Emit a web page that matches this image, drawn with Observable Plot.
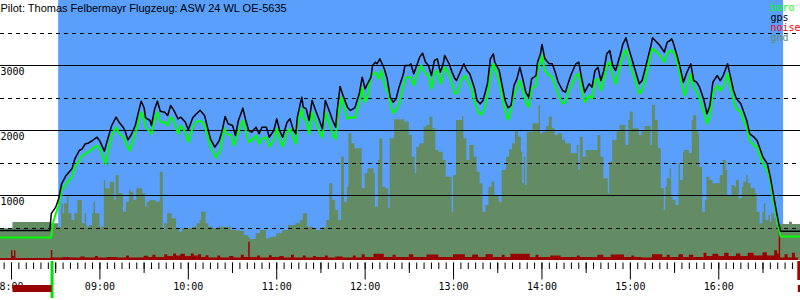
<!DOCTYPE html>
<html>
<head>
<meta charset="utf-8">
<script src="https://cdn.jsdelivr.net/npm/d3@7"></script>
<script src="https://cdn.jsdelivr.net/npm/@observablehq/plot@0.6"></script>
<style>
  html, body { margin: 0; padding: 0; background: #fff; }
  svg { display: block; }
</style>
</head>
<body>
<div id="chart"></div>
<script>
// ---- data (time "H:MM", altitude in m) ----
const titleText = "Pilot: Thomas Felbermayr Flugzeug: ASW 24 WL OE-5635";

const gps = [["7:52",460],["8:26",460],["8:27",720],["8:30",820],["8:32",949],["8:34",1179],["8:37",1308],["8:39",1359],["8:41",1410],["8:43",1564],["8:46",1692],["8:48",1718],["8:50",1795],["8:52",1805],["8:55",1846],["8:58",1897],["9:00",1836],["9:03",1682],["9:06",1923],["9:08",2077],["9:11",2205],["9:13",2128],["9:16",2041],["9:17",2000],["9:19",1856],["9:21",1923],["9:24",2077],["9:26",2267],["9:28",2451],["9:30",2349],["9:31",2195],["9:34",2154],["9:35",2077],["9:37",2318],["9:39",2451],["9:41",2297],["9:44",2282],["9:46",2231],["9:48",2385],["9:50",2318],["9:53",2179],["9:55",2205],["9:58",2128],["10:00",2010],["10:03",2195],["10:05",2246],["10:08",2310],["10:11",2231],["10:13",2051],["10:15",1872],["10:18",1744],["10:21",1846],["10:23",2000],["10:25",2215],["10:27",2103],["10:30",2077],["10:32",1923],["10:34",2154],["10:37",2344],["10:39",2154],["10:41",2000],["10:43",1974],["10:46",2051],["10:48",1949],["10:50",2051],["10:53",2051],["10:55",1897],["10:58",2000],["11:00",2179],["11:02",2000],["11:04",1897],["11:07",2128],["11:09",2179],["11:11",2026],["11:13",1949],["11:14",2205],["11:17",2513],["11:18",2359],["11:20",2333],["11:22",2154],["11:24",2462],["11:26",2333],["11:29",2154],["11:31",2026],["11:33",2462],["11:36",2282],["11:38",2154],["11:40",2051],["11:41",2308],["11:43",2677],["11:45",2538],["11:48",2359],["11:50",2308],["11:53",2349],["11:56",2564],["11:58",2820],["12:00",2641],["12:01",2692],["12:04",2820],["12:05",3000],["12:07",3051],["12:08",3026],["12:10",3103],["12:13",2949],["12:15",2795],["12:17",2513],["12:19",2436],["12:21",2487],["12:23",2667],["12:26",2872],["12:27",3000],["12:30",3000],["12:31",3026],["12:33",2872],["12:35",3000],["12:37",3128],["12:39",3190],["12:41",3051],["12:43",3000],["12:45",2846],["12:47",3077],["12:49",3103],["12:51",2897],["12:53",3026],["12:54",3154],["12:57",3026],["12:59",2897],["13:01",2795],["13:02",2769],["13:05",2923],["13:07",3026],["13:09",2923],["13:11",2872],["13:14",2667],["13:16",2462],["13:18",2410],["13:20",2462],["13:23",2718],["13:25",3103],["13:27",3179],["13:28",3051],["13:31",2923],["13:33",2692],["13:35",2462],["13:37",2349],["13:39",2385],["13:41",2692],["13:43",2795],["13:45",2974],["13:47",2795],["13:49",2590],["13:51",2513],["13:53",2795],["13:56",2846],["13:57",3051],["13:59",3179],["14:00",3323],["14:02",3103],["14:05",3026],["14:07",3026],["14:09",2897],["14:11",2744],["14:14",2615],["14:16",2590],["14:18",2744],["14:20",2872],["14:23",3026],["14:25",3051],["14:27",2795],["14:29",2590],["14:32",2718],["14:34",2667],["14:36",2923],["14:38",2974],["14:40",2769],["14:42",2923],["14:44",3179],["14:46",3231],["14:48",3000],["14:50",2923],["14:53",3154],["14:55",3333],["14:57",3426],["14:59",3256],["15:01",3103],["15:03",2949],["15:06",2718],["15:08",2769],["15:10",2949],["15:12",3128],["15:14",3308],["15:15",3426],["15:18",3359],["15:20",3308],["15:23",3205],["15:25",3359],["15:27",3385],["15:28",3410],["15:29",3359],["15:32",3128],["15:34",2949],["15:36",2744],["15:38",2872],["15:41",3026],["15:43",2769],["15:45",2744],["15:47",2667],["15:50",2462],["15:52",2256],["15:54",2385],["15:56",2744],["15:59",2846],["16:01",2769],["16:03",2846],["16:06",3026],["16:08",2820],["16:10",2615],["16:12",2487],["16:15",2410],["16:17",2282],["16:19",2154],["16:21",1949],["16:24",1897],["16:26",1846],["16:28",1718],["16:30",1590],["16:33",1487],["16:35",1282],["16:37",1026],["16:39",769],["16:41",538],["16:42",451],["16:56",451]];

const baro = [["7:52",355],["8:27",355],["8:28",564],["8:30",718],["8:32",846],["8:34",1077],["8:37",1179],["8:39",1231],["8:41",1282],["8:43",1436],["8:46",1538],["8:48",1615],["8:50",1641],["8:52",1667],["8:55",1718],["8:58",1769],["9:00",1718],["9:04",1487],["9:06",1718],["9:08",1923],["9:11",2051],["9:13",1949],["9:16",1897],["9:17",1846],["9:20",1692],["9:21",1744],["9:24",1949],["9:26",2102],["9:28",2282],["9:30",2179],["9:31",2051],["9:34",1974],["9:35",1949],["9:37",2154],["9:39",2282],["9:41",2128],["9:44",2128],["9:46",2077],["9:48",2205],["9:50",2154],["9:53",1949],["9:55",2077],["9:58",1974],["10:00",1821],["10:03",2051],["10:05",2128],["10:08",2154],["10:11",2077],["10:13",1923],["10:15",1744],["10:19",1579],["10:22",1718],["10:24",2051],["10:26",1949],["10:29",1923],["10:31",1769],["10:34",1974],["10:37",2154],["10:39",2000],["10:41",1821],["10:43",1846],["10:46",1923],["10:48",1795],["10:50",1872],["10:53",1897],["10:55",1754],["10:58",1846],["11:00",2026],["11:02",1872],["11:04",1754],["11:07",1974],["11:09",2026],["11:11",1897],["11:13",1795],["11:14",2051],["11:17",2333],["11:18",2205],["11:20",2154],["11:22",1949],["11:24",2282],["11:26",2154],["11:29",1974],["11:31",1897],["11:33",2282],["11:36",2103],["11:38",1923],["11:40",1872],["11:41",2154],["11:44",2513],["11:46",2349],["11:48",2179],["11:50",2205],["11:53",2195],["11:56",2410],["11:58",2667],["12:00",2436],["12:02",2538],["12:04",2846],["12:07",2897],["12:09",2795],["12:11",2923],["12:13",2718],["12:16",2564],["12:18",2333],["12:19",2267],["12:22",2349],["12:24",2487],["12:26",2692],["12:28",2820],["12:31",2820],["12:33",2692],["12:35",2846],["12:38",3000],["12:41",2872],["12:43",2846],["12:45",2641],["12:47",2872],["12:49",2923],["12:51",2718],["12:53",2846],["12:54",2974],["12:57",2872],["12:59",2718],["13:01",2564],["13:03",2590],["13:05",2769],["13:08",2846],["13:10",2744],["13:12",2667],["13:14",2462],["13:17",2267],["13:19",2246],["13:21",2333],["13:23",2538],["13:26",2923],["13:27",3026],["13:29",2897],["13:31",2744],["13:33",2513],["13:36",2231],["13:37",2164],["13:38",2231],["13:41",2538],["13:43",2641],["13:45",2769],["13:47",2615],["13:49",2436],["13:51",2359],["13:53",2641],["13:56",2692],["13:57",2923],["13:59",3051],["14:00",3154],["14:02",2923],["14:05",2846],["14:07",2820],["14:09",2692],["14:11",2564],["14:14",2410],["14:16",2436],["14:18",2590],["14:20",2692],["14:23",2846],["14:25",2872],["14:27",2641],["14:29",2436],["14:32",2538],["14:34",2487],["14:36",2769],["14:38",2795],["14:40",2615],["14:42",2769],["14:44",3000],["14:46",3051],["14:48",2846],["14:50",2718],["14:53",2974],["14:55",3154],["14:57",3241],["14:59",3077],["15:01",2923],["15:03",2795],["15:06",2564],["15:08",2615],["15:10",2769],["15:12",2974],["15:14",3179],["15:15",3256],["15:18",3205],["15:20",3154],["15:23",3051],["15:25",3179],["15:27",3231],["15:28",3231],["15:30",3179],["15:33",2949],["15:35",2692],["15:37",2538],["15:39",2718],["15:41",2872],["15:43",2667],["15:45",2590],["15:47",2487],["15:50",2282],["15:52",2103],["15:54",2231],["15:56",2564],["15:59",2692],["16:01",2615],["16:03",2667],["16:06",2872],["16:08",2667],["16:10",2462],["16:12",2333],["16:15",2282],["16:17",2154],["16:19",2051],["16:21",1846],["16:24",1769],["16:26",1744],["16:28",1615],["16:30",1487],["16:33",1385],["16:35",1231],["16:37",923],["16:39",718],["16:41",462],["16:42",369],["16:56",369]];

const gnd = [["7:52",490],["8:01",585],["8:27",564],["8:32",513],["8:34",872],["8:35",718],["8:36",872],["8:38",1000],["8:39",718],["8:41",615],["8:43",718],["8:45",923],["8:48",564],["8:50",718],["8:51",513],["8:53",538],["8:55",718],["8:56",897],["8:57",718],["9:00",513],["9:03",1231],["9:04",1103],["9:07",1205],["9:10",923],["9:11",1308],["9:13",1026],["9:16",744],["9:18",897],["9:20",1077],["9:21",1051],["9:23",923],["9:25",1103],["9:29",1026],["9:31",821],["9:32",897],["9:34",923],["9:38",897],["9:41",1359],["9:43",462],["9:44",564],["9:46",718],["9:49",641],["9:52",487],["9:54",436],["9:56",487],["10:03",513],["10:06",564],["10:08",615],["10:09",744],["10:12",564],["10:14",513],["10:17",487],["10:21",513],["10:29",462],["10:33",451],["10:38",385],["10:41",349],["10:42",323],["10:46",410],["10:49",462],["10:53",333],["10:56",359],["11:00",410],["11:04",462],["11:08",538],["11:13",564],["11:16",615],["11:18",718],["11:21",513],["11:25",487],["11:27",462],["11:31",503],["11:34",615],["11:36",1179],["11:38",923],["11:40",769],["11:42",615],["11:44",1590],["11:46",897],["11:48",1128],["11:49",1949],["11:51",1795],["11:53",1718],["11:58",1103],["12:00",1333],["12:02",1410],["12:06",1333],["12:07",821],["12:09",1538],["12:10",1872],["12:12",1128],["12:14",1103],["12:16",795],["12:17",1872],["12:20",2164],["12:27",2128],["12:30",1923],["12:32",1590],["12:34",1333],["12:35",1744],["12:37",1795],["12:40",2051],["12:42",2077],["12:44",2205],["12:46",2026],["12:48",1692],["12:50",1667],["12:53",1538],["12:55",1282],["12:59",744],["13:00",1308],["13:02",2154],["13:06",2215],["13:07",1872],["13:09",1538],["13:11",1769],["13:14",1590],["13:16",1359],["13:18",1179],["13:20",744],["13:22",846],["13:24",1128],["13:26",1205],["13:28",1000],["13:31",897],["13:33",1385],["13:36",1590],["13:38",1700],["13:40",1795],["13:42",2000],["13:44",1897],["13:46",1667],["13:47",1179],["13:48",1590],["13:49",1154],["13:50",1974],["13:54",2103],["13:58",2385],["13:59",1949],["14:01",1974],["14:03",2062],["14:05",2205],["14:07",2026],["14:09",1923],["14:11",1949],["14:14",1846],["14:16",1795],["14:20",1641],["14:24",1769],["14:25",1385],["14:26",1897],["14:28",1590],["14:30",1692],["14:38",1923],["14:40",1590],["14:42",1256],["14:45",1026],["14:46",1513],["14:48",1846],["14:51",2000],["14:53",2077],["14:57",1769],["14:59",2154],["15:00",2282],["15:02",2026],["15:06",1923],["15:08",2000],["15:10",2062],["15:14",1769],["15:15",2385],["15:17",2154],["15:19",1718],["15:21",1103],["15:23",769],["15:24",1128],["15:25",1256],["15:27",1410],["15:28",974],["15:29",923],["15:31",846],["15:33",1487],["15:34",1231],["15:36",1667],["15:37",1692],["15:40",1641],["15:42",2154],["15:43",2231],["15:45",2000],["15:46",1949],["15:47",1436],["15:49",744],["15:51",923],["15:52",1282],["15:54",1231],["15:56",1179],["16:01",1308],["16:03",1538],["16:05",1385],["16:06",1000],["16:09",1154],["16:11",1128],["16:12",1231],["16:14",949],["16:16",1128],["16:17",1205],["16:19",1308],["16:20",1179],["16:22",1103],["16:25",1026],["16:26",744],["16:28",564],["16:30",744],["16:31",872],["16:32",615],["16:34",692],["16:35",590],["16:36",718],["16:38",641],["16:39",538],["16:41",462],["16:42",554],["16:48",590],["16:50",554],["16:56",554]];

const noise = [["7:52",30],["7:59",30],["8:00",150],["8:01",60],["8:02",150],["8:03",30],["8:26",30],["8:27",155],["8:28",40],["8:35",45],["8:40",40],["8:47",55],["8:50",40],["8:57",60],["8:59",40],["9:05",45],["9:12",40],["9:18",70],["9:20",40],["9:25",40],["9:30",65],["9:33",45],["9:36",80],["9:38",45],["9:44",90],["9:46",60],["9:50",100],["9:52",70],["9:55",95],["9:58",60],["10:02",100],["10:04",70],["10:07",90],["10:09",45],["10:12",75],["10:14",40],["10:20",70],["10:22",40],["10:28",60],["10:31",40],["10:36",80],["10:38",45],["10:41",280],["10:42",45],["10:47",70],["10:49",40],["10:55",75],["10:57",45],["11:02",60],["11:05",40],["11:10",80],["11:12",40],["11:18",70],["11:20",40],["11:25",60],["11:27",45],["11:33",70],["11:35",40],["11:40",55],["11:45",40],["11:52",70],["11:54",40],["11:58",90],["12:00",45],["12:06",95],["12:13",45],["12:19",80],["12:21",45],["12:30",90],["12:33",45],["12:42",85],["12:50",45],["13:00",90],["13:08",45],["13:13",85],["13:17",45],["13:22",90],["13:27",45],["13:33",80],["13:35",45],["13:39",95],["13:52",45],["13:56",80],["13:58",45],["14:06",70],["14:13",45],["14:24",70],["14:26",45],["14:38",80],["14:42",45],["14:47",85],["14:56",45],["15:01",70],["15:03",45],["15:08",40],["15:15",90],["15:22",45],["15:25",80],["15:27",45],["15:33",90],["15:36",45],["15:40",80],["15:43",45],["15:50",110],["15:52",60],["15:56",95],["16:00",60],["16:04",110],["16:07",60],["16:12",100],["16:15",60],["16:20",110],["16:24",70],["16:30",120],["16:33",70],["16:38",150],["16:40",100],["16:41",460],["16:42",40],["16:45",90],["16:47",40],["16:50",110],["16:52",40],["16:54",0]];

const flightWindow = [["8:32","16:44"]];
const takeoffMark = ["8:27.5"];
const towBars = [["8:01","8:27.5"],["16:54","16:56"]];
const endMark = ["16:54.3"];

const yLabelValues = [1000, 2000, 3000];
const solidGrid = [1000, 2000, 3000];
const dashedGrid = [500, 1500, 2500, 3500];
const hourTicks = ["8:00","9:00","10:00","11:00","12:00","13:00","14:00","15:00","16:00"];
const hourLabels = ["8:00","09:00","10:00","11:00","12:00","13:00","14:00","15:00","16:00"];
const halfHourTicks = ["8:30","9:30","10:30","11:30","12:30","13:30","14:30","15:30","16:30"];
const legendItems = ["baro","gps","noise","gnd"];
const legendColors = ["#00ff00","#000000","#ff0000","#648c64"];

// ---- helpers ----
const t = s => { const [h, m] = String(s).split(":"); return +h * 60 + +m; };
const minorTicks = d3.range(t("7:55"), t("16:56"), 5);

const BLUE = "#599ffb", GND = "#648c64", NOISE = "#990000";
const mono = "DejaVu Sans Mono";

const chart = Plot.plot({
  width: 800,
  height: 300,
  marginTop: 0,
  marginBottom: 40,
  marginLeft: 0,
  marginRight: 0,
  x: {type: "linear", domain: [472.53, 1015.47]},
  y: {domain: [0, 4000], axis: null},
  style: {background: "white", fontFamily: mono, fontSize: "10px", color: "black"},
  marks: [
    Plot.rect(flightWindow, {x1: d => t(d[0]), x2: d => t(d[1]), fill: BLUE}),
    Plot.areaY(gnd, {x: d => t(d[0]), y: d => d[1], fill: GND, curve: "step-after"}),
    Plot.ruleY(solidGrid, {stroke: "black", strokeWidth: 1, shapeRendering: "crispEdges"}),
    Plot.ruleY(dashedGrid, {stroke: "black", strokeWidth: 1, strokeDasharray: "4,4", shapeRendering: "crispEdges"}),
    Plot.areaY(noise, {x: d => t(d[0]), y: d => d[1], fill: NOISE, curve: "step-after"}),
    Plot.line(baro, {x: d => t(d[0]), y: d => d[1], stroke: "#00ff00", strokeWidth: 2}),
    Plot.line(gps, {x: d => t(d[0]), y: d => d[1], stroke: "black", strokeWidth: 1.5}),
    Plot.text(yLabelValues, {y: d => d, text: d => String(d), frameAnchor: "left", textAnchor: "start", lineAnchor: "top", dy: 2.5, fontFamily: mono, fontSize: 10, fill: "black"}),
    Plot.axisX(minorTicks, {tickSize: 6.5, tickFormat: () => "", dy: 2.5, label: null, stroke: "black"}),
    Plot.axisX(halfHourTicks.map(t), {tickSize: 10.5, tickFormat: () => "", dy: 2.5, label: null, stroke: "black"}),
    Plot.axisX(hourTicks.map(t), {tickSize: 17, tickPadding: 3, dy: 2.5, label: null, stroke: "black", fill: "black",
      tickFormat: (d, i) => hourLabels[i], fontFamily: mono, fontSize: 10}),
    Plot.ruleX(takeoffMark, {x: d => t(d), stroke: "#00e000", strokeWidth: 3, insetTop: 261, insetBottom: -38}),
    Plot.ruleX(endMark, {x: d => t(d), stroke: "#b00000", strokeWidth: 3, insetTop: 261, insetBottom: -20}),
    Plot.rect(towBars, {x1: d => t(d[0]), x2: d => t(d[1]), fill: NOISE, insetTop: 285, insetBottom: -32}),
    Plot.text([titleText], {frameAnchor: "top-left", textAnchor: "start", lineAnchor: "top", dy: 3.5,
      fontFamily: "Liberation Sans", fontSize: 11, fill: "black", letterSpacing: "-0.35px"}),
    ...legendItems.map((label, i) => Plot.text([label], {frameAnchor: "top-left", textAnchor: "start", lineAnchor: "top",
      dx: 770, dy: 3 + i * 10.2, fill: legendColors[i], fontFamily: mono, fontSize: 10}))
  ]
});
document.getElementById("chart").appendChild(chart);
</script>
</body>
</html>
